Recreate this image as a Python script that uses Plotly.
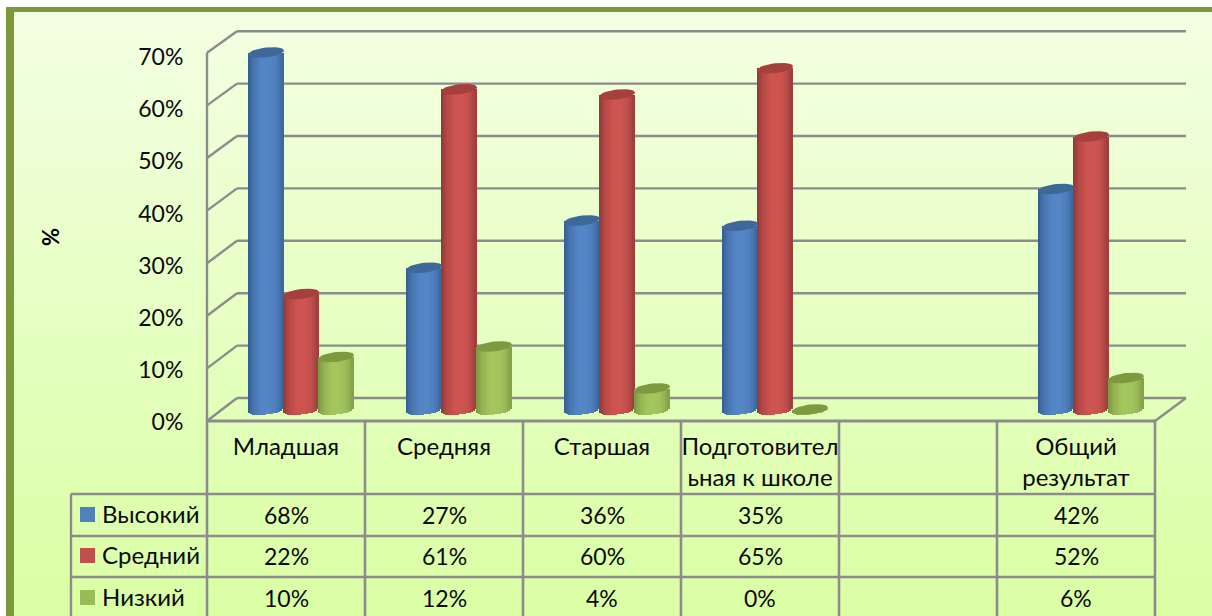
import math
import plotly.graph_objects as go

categories = ["Младшая", "Средняя", "Старшая", "Подготовител<br>ьная к школе", " ", "Общий<br>результат"]
series_names = ["Высокий", "Средний", "Низкий"]
high = [68, 27, 36, 35, None, 42]
mid = [22, 61, 60, 65, None, 52]
low = [10, 12, 4, 0, None, 6]
y_ticks = [0, 10, 20, 30, 40, 50, 60, 70]

W, H = 1212, 616
PX_L, PX_R, PX_T, PX_B = 207, 1186, 30, 424      # plot area in pixels
CAT_W = 158.0
BAR_X0 = 301.0    # pixel centre of first bar group
ZERO_Y = 409.5    # pixel of value 0 at mid depth
UNIT = 5.25       # pixels per percent
TICK_ZERO = 422.0 # pixel of the 0% tick label
TICK_UNIT = 5.214 # pixels per percent of the tick labels
LABEL_FONT = dict(family="Lato, Carlito, Calibri, sans-serif", size=23, color="#0a0a0a")
TEXT_FONT = dict(family="Lato, Carlito, Calibri, sans-serif", size=24, color="#0a0a0a")
GRID = "#8c8c8c"

def px(x):
    return (x - PX_L) / (PX_R - PX_L)
def py(y):
    return (PX_B - y) / (PX_B - PX_T)

def mix(a, b, t):
    return "rgb(%d,%d,%d)" % tuple(round(a[i] + (b[i] - a[i]) * t) for i in range(3))

styles = [
    dict(vals=high, edge=(52, 92, 140), mid=(84, 133, 198), cap="#3d6898", key="#4f81bd", off=-35),
    dict(vals=mid, edge=(140, 54, 52), mid=(206, 84, 81), cap="#a5403d", key="#c0504d", off=0),
    dict(vals=low, edge=(120, 146, 64), mid=(165, 198, 94), cap="#7d9a41", key="#9bbb59", off=35),
]
shapes, annotations = [], []

# page background: white page, vertical gradient panel, green frame
N_BG = 80
top_c, bot_c = (243, 255, 226), (218, 255, 164)
for i in range(N_BG):
    y0 = 12 + (H - 12) * i / N_BG
    y1 = 12 + (H - 12) * (i + 1) / N_BG + 1
    shapes.append(dict(type="rect", xref="paper", yref="paper", x0=px(14), x1=px(W), y0=py(y0), y1=py(y1),
                       fillcolor=mix(top_c, bot_c, i / (N_BG - 1)), line_width=0, layer="below"))
frame = "#7c983c"
shapes.append(dict(type="rect", xref="paper", yref="paper", x0=px(6), x1=px(W), y0=py(7), y1=py(12),
                   fillcolor=frame, line_width=0, layer="below"))
shapes.append(dict(type="rect", xref="paper", yref="paper", x0=px(6), x1=px(14), y0=py(7), y1=py(H),
                   fillcolor=frame, line_width=0, layer="below"))

def line(x0, y0, x1, y1, width=2.4):
    shapes.append(dict(type="line", xref="paper", yref="paper", x0=px(x0), x1=px(x1), y0=py(y0), y1=py(y1),
                       line=dict(color=GRID, width=width), layer="below"))

# 3D walls
for v in y_ticks:
    yb = 398 - 5.24 * v
    yf = 421 - 5.26 * v
    line(237, yb, 1186, yb)
    line(207, yf, 237, yb)
line(207, 421 - 5.26 * 70, 207, 421)
line(207, 421, 1155, 421, 2.8)
line(1155, 421, 1186, 398)

# data table grid
rows_y = [494, 536, 577]
col_x = [207 + CAT_W * i for i in range(len(categories) + 1)]
for x in col_x:
    line(x, 421, x, H, 2.6)
line(71, 494, 71, H)
for y in rows_y:
    line(71, y, col_x[-1], y, 2.6)

# table rows
row_c = [515, 556, 598]
for r, (name, st) in enumerate(zip(series_names, styles)):
    yc = row_c[r]
    shapes.append(dict(type="rect", xref="paper", yref="paper", x0=px(80), x1=px(95),
                       y0=py(yc - 8), y1=py(yc + 7), fillcolor=st["key"], line_width=0))
    annotations.append(dict(xref="paper", yref="paper", x=px(100), y=py(yc - 2), text=name, showarrow=False,
                            xanchor="left", yanchor="middle", font=TEXT_FONT))
    for i, v in enumerate(st["vals"]):
        if v is None:
            continue
        annotations.append(dict(xref="x2", yref="paper", x=i, y=py(yc), text=f"{v}%", showarrow=False,
                                xanchor="center", yanchor="middle", font=LABEL_FONT))

annotations.append(dict(xref="paper", yref="paper", x=px(50), y=py(237), text="<b>%</b>", textangle=-90,
                        showarrow=False, xanchor="center", yanchor="middle",
                        font=dict(family="Lato, Carlito, sans-serif", size=22, color="#000000")))

fig = go.Figure()
BAR_W = 36.0
N = 16
A = 5.0    # ellipse semi-minor, px
TILT = 2.0 # rise of the right edge, px
for name, st in zip(series_names, styles):
    xs, ys, bases, widths, colors = [], [], [], [], []
    for i, v in enumerate(st["vals"]):
        if v is None:
            continue
        c = i + st["off"] / CAT_W
        for k in range(N):
            t = -1 + (2 * k + 1) / N
            xs.append(c + t * BAR_W / 2 / CAT_W)
            widths.append((BAR_W / N + 0.6) / CAT_W)
            b = (-A * math.sqrt(max(0, 1 - t * t)) + TILT * t) / UNIT
            bases.append(b)
            ys.append(v - b)
            s = 1 - min(1, abs(t - 0.05) / 1.05) ** 2.2
            colors.append(mix(st["edge"], st["mid"], s))
    fig.add_trace(go.Bar(x=xs, y=ys, base=bases, width=widths, name=name,
                         marker=dict(color=colors, line_width=0), showlegend=False))
for name, st in zip(series_names, styles):
    for i, v in enumerate(st["vals"]):
        if v is None:
            continue
        c = i + st["off"] / CAT_W
        ex, ey = [], []
        for d in range(0, 361, 10):
            a = math.radians(d)
            t = math.cos(a)
            ex.append(c + t * BAR_W / 2 / CAT_W)
            ey.append(v + (A * math.sin(a) + TILT * t) / UNIT)
        fig.add_trace(go.Scatter(x=ex, y=ey, mode="lines", fill="toself", fillcolor=st["cap"],
                                 line=dict(width=0, color=st["cap"]), hoverinfo="skip", showlegend=False))

# invisible trace carrying the value and category axes
fig.add_trace(go.Scatter(x=list(range(len(categories))), y=[0] * len(categories), xaxis="x2", yaxis="y2",
                         mode="markers", marker=dict(opacity=0), hoverinfo="skip", showlegend=False))

fig.update_layout(
    width=W, height=H, autosize=False,
    margin=dict(l=PX_L, r=W - PX_R, t=PX_T, b=H - PX_B, pad=0),
    paper_bgcolor="white", plot_bgcolor="rgba(0,0,0,0)",
    barmode="overlay", bargap=0,
    shapes=shapes, annotations=annotations,
    xaxis=dict(range=[(PX_L - BAR_X0) / CAT_W, (PX_R - BAR_X0) / CAT_W], visible=False),
    yaxis=dict(range=[(ZERO_Y - PX_B) / UNIT, (ZERO_Y - PX_T) / UNIT], visible=False),
    xaxis2=dict(range=[(PX_L - 286) / CAT_W, (PX_R - 286) / CAT_W], overlaying="x", side="bottom",
                tickmode="array", tickvals=list(range(len(categories))), ticktext=categories,
                tickangle=0, ticks="outside", ticklen=1, tickcolor="rgba(0,0,0,0)",
                showgrid=False, zeroline=False, showline=False, tickfont=TEXT_FONT),
    yaxis2=dict(range=[(TICK_ZERO - PX_B) / TICK_UNIT, (TICK_ZERO - PX_T) / TICK_UNIT], overlaying="y", side="left",
                tickmode="array", tickvals=y_ticks, ticktext=[f"{v}%" for v in y_ticks],
                ticks="outside", ticklen=18, tickcolor="rgba(0,0,0,0)",
                showgrid=False, zeroline=False, showline=False, tickfont=LABEL_FONT),
)
fig.write_html("out.html", config=dict(displayModeBar=False),
               post_script="document.body.style.margin='0';document.documentElement.style.overflow='hidden';")
